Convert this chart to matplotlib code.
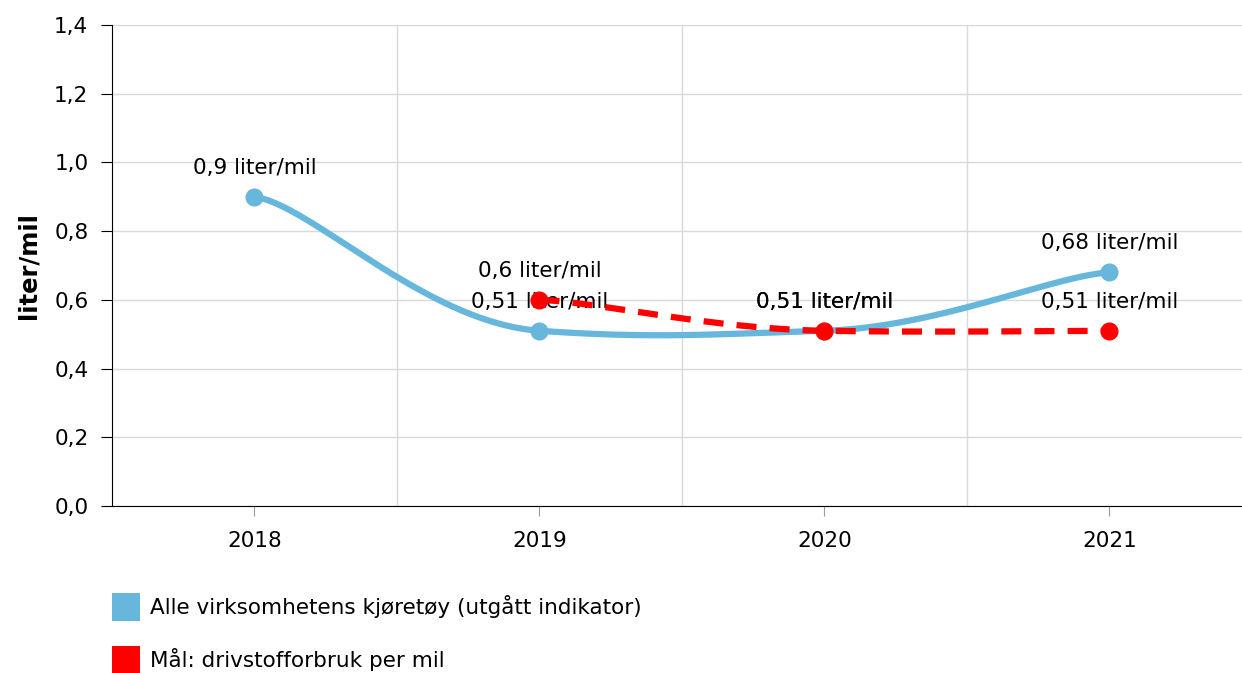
import numpy as np
import matplotlib
matplotlib.use("Agg")
import matplotlib.pyplot as plt
from matplotlib.patches import Patch

plt.rcParams['font.family'] = ['DejaVu Sans']

years = ['2018', '2019', '2020', '2021']
alle = [0.9, 0.51, 0.51, 0.68]
maal = [None, 0.6, 0.51, 0.51]
alle_name = 'Alle virksomhetens kjøretøy (utgått indikator)'
maal_name = 'Mål: drivstofforbruk per mil'
yticks = [0.0, 0.2, 0.4, 0.6, 0.8, 1.0, 1.2, 1.4]

blue = '#67b7dc'
red = '#ff0000'
fs = 15.5


def smooth(xs, ys, tx=0.2, ty=0.06, n=80):
    # bezier smoothing with separate x / y tension, like the charting lib
    p = np.column_stack([np.asarray(xs, float), np.asarray(ys, float)])
    out = []
    t = np.linspace(0, 1, n)[:, None]
    for i in range(len(p) - 1):
        p0 = p[i - 1] if i > 0 else p[i]
        p1 = p[i]
        p2 = p[i + 1]
        p3 = p[i + 2] if i + 2 < len(p) else p[i + 1]
        ten = np.array([tx, ty])
        ca = p1 + ten * (p2 - p0)
        cb = p2 - ten * (p3 - p1)
        seg = ((1 - t)**3 * p1 + 3 * (1 - t)**2 * t * ca
               + 3 * (1 - t) * t**2 * cb + t**3 * p2)
        out.append(seg)
    out = np.vstack(out)
    return out[:, 0], out[:, 1]


def fmt(v):
    return (('%.2f' % v).rstrip('0').rstrip('.')).replace('.', ',') + ' liter/mil'


fig = plt.figure(figsize=(12.42, 6.73), dpi=100)
ax = fig.add_axes([112 / 1242, 1 - 506 / 673, 1130 / 1242, 481 / 673])

x = np.arange(len(years))

# blue series
sx, sy = smooth(x, alle)
ax.plot(sx, sy, color=blue, lw=4.5, solid_capstyle='round', zorder=3)
ax.plot(x, alle, 'o', color=blue, ms=12, zorder=3)
for xi, v in zip(x, alle):
    ax.annotate(fmt(v), (xi, v), xytext=(0, 21), textcoords='offset points',
                ha='center', va='center', fontsize=fs, zorder=4)

# red target series
mx = [xi for xi, v in zip(x, maal) if v is not None]
mv = [v for v in maal if v is not None]
rx, ry = smooth(mx, mv)
ax.plot(rx, ry, color=red, lw=4.5, dashes=(3.2, 2.1), zorder=5)
ax.plot(mx, mv, 'o', color=red, ms=12, zorder=5)
for xi, v in zip(mx, mv):
    ax.annotate(fmt(v), (xi, v), xytext=(0, 21), textcoords='offset points',
                ha='center', va='center', fontsize=fs, zorder=6)

ax.set_xlim(-0.5, 3.465)
ax.set_ylim(0, 1.4)
ax.set_xticks(x)
ax.set_xticklabels(years, fontsize=fs)
ax.set_xticks([0.5, 1.5, 2.5], minor=True)
ax.set_yticks(yticks)
ax.set_yticklabels([('%.1f' % v).replace('.', ',') for v in yticks], fontsize=fs)

ax.grid(axis='y', color='#d9d9d9', lw=1)
ax.grid(axis='x', which='minor', color='#d9d9d9', lw=1)
ax.set_axisbelow(True)
ax.tick_params(axis='x', which='major', length=7, color='#999999', pad=11)
ax.tick_params(axis='x', which='minor', length=0)
ax.tick_params(axis='y', length=8, color='black', pad=9)

for s in ['top', 'right']:
    ax.spines[s].set_visible(False)
ax.spines['left'].set_color('black')
ax.spines['bottom'].set_color('black')

ax.set_ylabel('liter/mil', fontsize=17.5, fontweight='bold', labelpad=10)

handles = [Patch(facecolor=blue, edgecolor='none', label=alle_name),
           Patch(facecolor=red, edgecolor='none', label=maal_name)]
fig.legend(handles=handles, loc='upper left',
           bbox_to_anchor=(112 / 1242, 1 - 593 / 673), frameon=False,
           fontsize=fs, handlelength=1.3, handleheight=1.63, handletextpad=0.45,
           labelspacing=1.15, borderpad=0, borderaxespad=0)

fig.savefig('out.png', dpi=100)
